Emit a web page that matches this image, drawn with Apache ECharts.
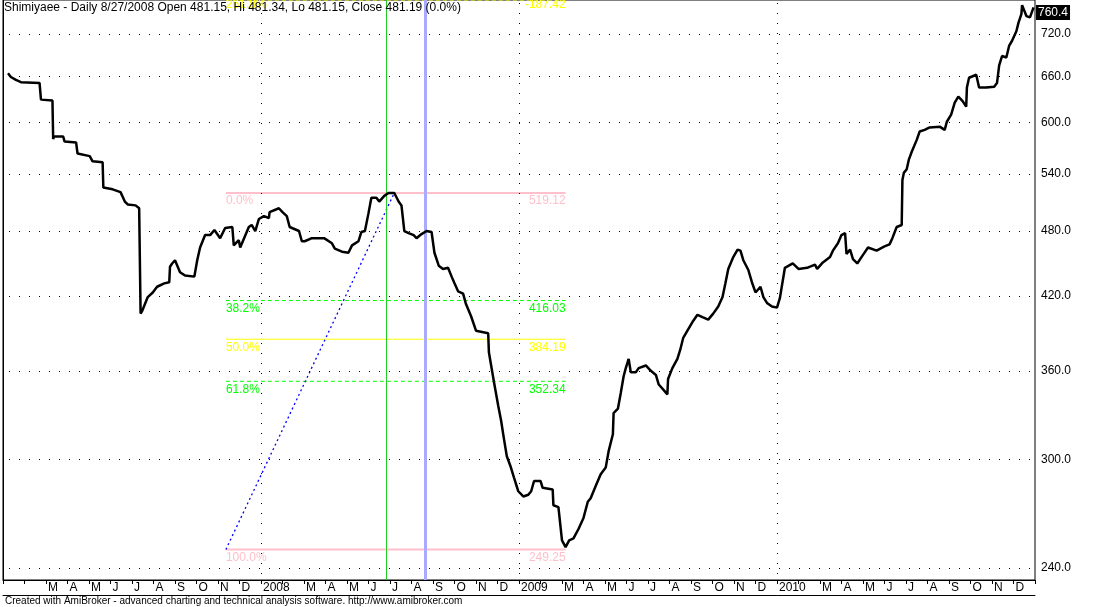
<!DOCTYPE html>
<html><head><meta charset="utf-8">
<script src="https://cdn.jsdelivr.net/npm/echarts@6/dist/echarts.min.js"></script>
<style>html,body{margin:0;padding:0;background:#fff}#c{width:1096px;height:607px}</style>
</head><body><div id="c"></div>
<script>
const titleText = 'Shimiyaee - Daily 8/27/2008 Open 481.15, Hi 481.34, Lo 481.15, Close 481.19 (0.0%)';
const footerText = 'Created with AmiBroker - advanced charting and technical analysis software. http://www.amibroker.com';
const dates = [
'2007-01-08','2007-01-12','2007-01-19','2007-01-26','2007-02-22','2007-02-24','2007-03-10','2007-03-11','2007-03-12','2007-03-25','2007-03-27',
'2007-04-13','2007-04-15','2007-05-02','2007-05-06','2007-05-20','2007-05-21','2007-06-04','2007-06-15','2007-06-21','2007-06-25',
'2007-07-06','2007-07-11','2007-07-13','2007-07-15','2007-07-23','2007-07-30','2007-08-06','2007-08-16','2007-08-23','2007-08-24','2007-08-27',
'2007-09-01','2007-09-08','2007-09-15','2007-09-28','2007-10-02','2007-10-06','2007-10-13','2007-10-20','2007-10-26',
'2007-11-04','2007-11-11','2007-11-21','2007-11-23','2007-11-30','2007-12-02','2007-12-14','2007-12-18','2007-12-23','2007-12-28',
'2008-01-05','2008-01-12','2008-01-13','2008-01-26','2008-01-31','2008-02-07','2008-02-11','2008-02-24','2008-02-28',
'2008-03-02','2008-03-12','2008-03-29','2008-04-10','2008-04-14','2008-04-24','2008-05-03','2008-05-08','2008-05-17','2008-05-21','2008-05-26',
'2008-06-01','2008-06-05','2008-06-12','2008-06-16','2008-06-23','2008-06-29','2008-07-07','2008-07-13','2008-07-17','2008-07-21','2008-07-27',
'2008-08-04','2008-08-08','2008-08-15','2008-08-22','2008-08-29','2008-09-03','2008-09-09','2008-09-15','2008-09-22','2008-09-27',
'2008-10-01','2008-10-06','2008-10-13','2008-10-17','2008-10-24','2008-11-01','2008-11-18','2008-11-19','2008-11-26',
'2008-12-02','2008-12-06','2008-12-10','2008-12-14','2008-12-19','2008-12-24','2008-12-30',
'2009-01-07','2009-01-14','2009-01-18','2009-01-22','2009-02-01','2009-02-04','2009-02-18','2009-02-19','2009-02-26',
'2009-03-01','2009-03-06','2009-03-11','2009-03-17','2009-03-24','2009-03-31','2009-04-07','2009-04-11','2009-04-18','2009-04-25',
'2009-05-02','2009-05-06','2009-05-12','2009-05-13','2009-05-19','2009-05-23','2009-05-27','2009-05-30',
'2009-06-04','2009-06-07','2009-06-14','2009-06-18','2009-06-28','2009-07-05','2009-07-12','2009-07-16','2009-07-23','2009-07-28','2009-07-29',
'2009-08-05','2009-08-12','2009-08-16','2009-08-20','2009-08-26','2009-09-03','2009-09-10','2009-09-17','2009-09-25',
'2009-10-02','2009-10-09','2009-10-15','2009-10-19','2009-10-23','2009-10-30','2009-11-06','2009-11-10','2009-11-14','2009-11-21','2009-11-26',
'2009-12-01','2009-12-08','2009-12-12','2009-12-17','2009-12-24',
'2010-01-01','2010-01-05','2010-01-11','2010-01-12','2010-01-23','2010-02-01','2010-02-13','2010-02-24','2010-02-27',
'2010-03-05','2010-03-15','2010-03-19','2010-03-26','2010-04-01','2010-04-06','2010-04-08','2010-04-13','2010-04-17','2010-04-23',
'2010-05-01','2010-05-08','2010-05-20','2010-06-01','2010-06-08','2010-06-12','2010-06-18','2010-06-25','2010-06-26','2010-06-28',
'2010-07-02','2010-07-05','2010-07-09','2010-07-16','2010-07-20','2010-07-27','2010-08-04','2010-08-18','2010-08-25','2010-08-28',
'2010-09-04','2010-09-09','2010-09-14','2010-09-20','2010-09-25','2010-09-26','2010-09-29','2010-10-09','2010-10-13','2010-10-23',
'2010-11-04','2010-11-08','2010-11-11','2010-11-15','2010-11-21','2010-11-25','2010-11-29',
'2010-12-05','2010-12-08','2010-12-12','2010-12-13','2010-12-19','2010-12-24','2010-12-29'
];
const closes = [
664,659,655,652,651,629,628,580,583,583,577,
576,563,560,554,553,525,523,520,510,507,
506,503,405,407,419,423,428,431,432,446,449,
452,441,438,437,452,464,476,476,481,
473,483,484,466,471,464,484,486,480,492,
495,493,499,503,499,495,484,480,470,
470,473,473,468,463,460,459,466,470,479,480,
498,514,514,510,516,519,519,510,506,480,478,
476,473,477,480,479,459,447,444,445,437,
431,424,422,413,403,391,389,374,352,
335,325,313,302,296,289,281,
278,279,281,287,287,283,282,273,272,
254,250.5,254,255,260,266,275,277,284,291,
295,305,316,330,333,344,356,362,
369,359,359,362,364,360,357,350,346,343,354,
362,369,376,385,391,398,404,402,400,
405,411,419,431,444,455,462,461,452,443,432,
423,428,419,414,411,
410,418,441,445,449,444,445,448,444,
450,455,461,468,476,478,458,462,453,449,
457,464,461,465,467,473,484,486,533,541,
545,556,565,579,589,591,594,595,591,601,
610,625,633,627,620,645,658,662,645,645,
646,651,675,688,686,703,710,
724,737,750,764,747,745,760.4
];
const yTicks = [240,300,360,420,480,540,600,660,720];
const monthLetters = ['','','M','A','M','J','J','A','S','O','N','D'];
const fibLabels = ['0.0%','38.2%','50.0%','61.8%','100.0%'];
const fibValues = [519.12,416.03,384.19,352.34,249.25];
const fibColors = ['#ffc0cb','#00ff00','#ffff00','#00ff00','#ffc0cb'];
const fibExtLabel = '261.8%';
const fibExtValue = -187.42;
const fibDates = ['2007-11-12','2008-07-07','2009-03-06'];
const cursorDates = ['2008-06-26','2008-08-20'];
const lastClose = 760.4;

const Y_MIN = 234.1, Y_MAX = 772.1;
const FONT = 'Liberation Sans, Arial, sans-serif';
function toM(s){const p=s.split('-').map(Number);return (p[0]-2007)*12+(p[1]-1)+(p[2]-1)/30;}
const priceData = dates.map((d,i)=>[toM(d),closes[i]]);
const dotted = {color:'#000',width:1,type:[1,9],dashOffset:4};
const CLEAR = {color:'rgba(255,255,255,0)',width:1,type:'solid'};

// one series per fib level: a 2-point line for the level, and markLine labels at both ends
function fibSeries(v, text, rightText, color, width, dash, dy){
  const x0 = toM(fibDates[0]), x1 = toM(fibDates[2]);
  const lbl = {show:true,color:color,fontSize:12,fontFamily:FONT,distance:[0,dy]};
  return {
    type:'line', z:3, silent:true, animation:false, symbol:'none',
    lineStyle:{color:color,width:width,type:dash},
    data:[[x0,v],[x1,v]],
    markLine:{silent:true,symbol:['none','none'],animation:false,
      data:[
        [{coord:[x0,v],lineStyle:CLEAR,label:Object.assign({position:'insideStartBottom',formatter:text},lbl)},{coord:[x1,v]}],
        [{coord:[x0,v],lineStyle:CLEAR,label:Object.assign({position:'insideEndBottom',formatter:rightText},lbl)},{coord:[x1,v]}]
      ]}
  };
}
const fibList = fibValues.map((v,i)=>{
  const thick = (i===0||i===4);
  const solid = thick||i===2;
  return fibSeries(v,fibLabels[i],v.toFixed(2),fibColors[i],thick?2:1,solid?'solid':[4,3],2);
});
fibList.push(fibSeries(Y_MAX,fibExtLabel,fibExtValue.toFixed(2),'#ffff00',1,[4,3],-1));

const chart = echarts.init(document.getElementById('c'));
chart.setOption({
  animation:false,
  backgroundColor:'#fff',
  title:[
    {text:titleText,left:4,top:2,padding:0,textStyle:{fontSize:12,fontWeight:'normal',color:'#000',fontFamily:FONT}},
    {text:footerText,left:5,top:596,padding:0,textStyle:{fontSize:10,fontWeight:'normal',color:'#000',fontFamily:FONT}}
  ],
  grid:{left:0,right:61,top:0,bottom:27,show:true,borderColor:'#000',borderWidth:1,backgroundColor:'#fff'},
  xAxis:[{
    type:'value',min:0,max:48,interval:1,
    axisLine:{show:true,lineStyle:{color:'#000',width:1}},
    axisTick:{show:true,length:4,lineStyle:{color:'#000'}},
    splitLine:{show:false},
    axisLabel:{show:true,align:'left',margin:2,padding:[0,0,0,2],fontSize:12,color:'#000',fontFamily:FONT,
      showMinLabel:true,showMaxLabel:true,hideOverlap:false,
      formatter:function(v){v=Math.round(v);if(v===0||v===48)return '';if(v%12===0)return String(2007+v/12);return monthLetters[v%12];}}
  },{
    type:'value',min:0,max:48,position:'bottom',offset:15,
    axisLine:{show:true,lineStyle:{color:'#000',width:1}},axisTick:{show:false},axisLabel:{show:false},splitLine:{show:false}
  }],
  yAxis:{type:'log',position:'right',min:Y_MIN,max:Y_MAX,
    axisLine:{show:true,lineStyle:{color:'#000'}},axisTick:{show:false},axisLabel:{show:false},splitLine:{show:false}},
  series:[
    {type:'line',name:'grid',data:[],z:1,silent:true,
      markLine:{silent:true,symbol:['none','none'],animation:false,
        data:yTicks.map(v=>({yAxis:v,lineStyle:dotted,
          label:{show:true,position:'end',distance:6,formatter:v.toFixed(1),color:'#000',fontSize:12,fontFamily:FONT}}))
          .concat([12,24,36].map(m=>({xAxis:m,lineStyle:dotted,label:{show:false}})))}},
    {type:'line',name:'cursor',data:[],z:2,silent:true,
      markLine:{silent:true,symbol:['none','none'],animation:false,label:{show:false},
        data:[{xAxis:toM(cursorDates[0]),lineStyle:{color:'#22cc22',width:1,type:'solid'}},
              {xAxis:toM(cursorDates[1]),lineStyle:{color:'#aaaaff',width:3,type:'solid'}}]}},
    {type:'line',name:'trend',z:4,silent:true,symbol:'none',
      data:[[toM(fibDates[0]),fibValues[4]],[toM(fibDates[1]),fibValues[0]]],
      lineStyle:{color:'#0000ff',width:1.3,type:[2,3]}},
    {type:'line',name:'Shimiyaee',z:5,symbol:'none',data:priceData,
      lineStyle:{color:'#000',width:2.5},
      markLine:{silent:true,symbol:['none','none'],animation:false,
        data:[{yAxis:lastClose,lineStyle:CLEAR,
          label:{show:true,position:'end',distance:1,formatter:lastClose.toFixed(1),color:'#fff',backgroundColor:'#000',
            padding:[2,2,1,2],fontSize:12,fontFamily:FONT,offset:[0,5]}}]}}
  ].concat(fibList)
});
</script></body></html>
